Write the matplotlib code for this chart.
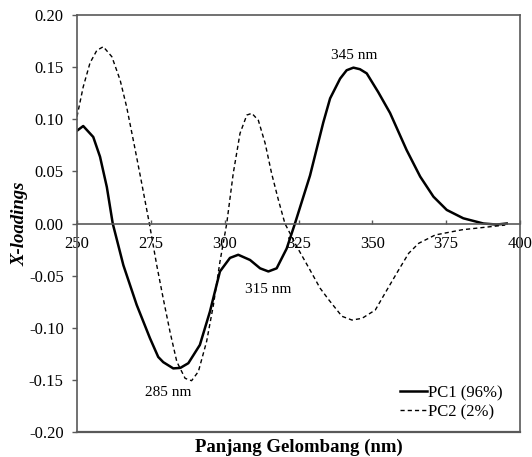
#!/usr/bin/env python3
"""
Plot X-loadings of PC1 and PC2 against wavelength and save as out.png.
"""
import matplotlib.pyplot as plt

# wavelengths (nm) and loadings
pc1_nm = [250.0, 252.1, 255.5, 257.8, 260.1, 262.1, 265.7, 270.2, 274.7, 277.5,
          279.2, 282.6, 285.0, 287.7, 291.6, 295.0, 298.4, 301.8, 304.6, 308.6,
          312.0, 314.8, 317.6, 321.0, 323.8, 328.9, 333.4, 335.7, 339.1, 341.3,
          343.6, 345.8, 348.1, 352.0, 356.0, 361.6, 366.2, 370.7, 375.2, 380.8,
          387.6, 392.1, 395.5]
pc1_val = [0.089, 0.0935, 0.083, 0.064, 0.035, 0.0, -0.040, -0.078, -0.110, -0.128,
           -0.133, -0.139, -0.1385, -0.134, -0.1165, -0.0846, -0.046, -0.033, -0.030, -0.035,
           -0.043, -0.046, -0.043, -0.024, 0.0, 0.046, 0.097, 0.120, 0.139, 0.147,
           0.1495, 0.148, 0.144, 0.126, 0.106, 0.0705, 0.045, 0.0257, 0.013, 0.005,
           0.0, -0.001, 0.0]

pc2_nm = [250.0, 252.1, 254.4, 256.7, 258.9, 261.8, 264.6, 266.8, 269.5, 271.7,
          274.5, 277.0, 279.2, 281.5, 283.8, 286.6, 288.8, 291.1, 293.9, 296.2,
          298.4, 300.7, 302.9, 305.2, 307.5, 309.2, 311.4, 313.7, 315.9, 318.2,
          320.4, 324.4, 328.9, 332.3, 335.2, 339.7, 343.1, 346.5, 351.0, 355.5,
          358.9, 362.3, 365.7, 371.3, 380.4, 395.0]
pc2_val = [0.1025, 0.131, 0.154, 0.166, 0.1696, 0.160, 0.1376, 0.112, 0.0737, 0.0417,
           0.0, -0.040, -0.072, -0.104, -0.1326, -0.1485, -0.1508, -0.142, -0.113, -0.078,
           -0.0367, 0.0, 0.048, 0.0865, 0.104, 0.1057, 0.099, 0.077, 0.048, 0.0225,
           0.0, -0.022, -0.0446, -0.062, -0.073, -0.089, -0.0926, -0.091, -0.083, -0.061,
           -0.0446, -0.0286, -0.019, -0.011, -0.006, -0.0015]

labels = ['PC1 (96%)', 'PC2 (2%)']
peak_texts = ['285 nm', '315 nm', '345 nm']
peak_pos = [(280.9, -0.162), (314.8, -0.063), (344.0, 0.1615)]

x_ticks = [250, 275, 300, 325, 350, 375, 400]
y_ticks = [-0.20, -0.15, -0.10, -0.05, 0.00, 0.05, 0.10, 0.15, 0.20]


def main():
    plt.rcParams['font.family'] = ['Liberation Serif', 'DejaVu Serif']
    plt.rcParams['axes.unicode_minus'] = False
    axis_gray = '#595959'

    fig = plt.figure(figsize=(5.32, 4.57), dpi=100)
    ax = fig.add_axes([77 / 532, 1 - 432 / 457, 443 / 532, 417 / 457])

    ax.plot(pc1_nm, pc1_val, color='black', lw=1.8, label=labels[0])
    ax.plot(pc2_nm, pc2_val, color='black', lw=1.0, dashes=(3, 2.2), label=labels[1])

    for txt, (x, y) in zip(peak_texts, peak_pos):
        ax.text(x, y, txt, fontsize=11, ha='center', va='center')

    ax.set_xlim(250, 400)
    ax.set_ylim(-0.20, 0.20)
    ax.set_xticks(x_ticks)
    ax.set_yticks(y_ticks)
    ax.set_yticklabels([f'{v:.2f}' for v in y_ticks])

    # x axis sits on y = 0, box closed by a line at the bottom
    ax.spines['bottom'].set_position(('data', 0))
    ax.axhline(-0.20, color=axis_gray, lw=1.6, clip_on=False)
    for s in ax.spines.values():
        s.set_color(axis_gray)
        s.set_linewidth(1.2)

    ax.tick_params(axis='x', direction='in', length=3, width=1, color=axis_gray,
                   labelsize=12, pad=9)
    ax.tick_params(axis='y', direction='out', length=3.6, width=1, color=axis_gray,
                   labelsize=12, pad=6)

    ax.set_xlabel('Panjang Gelombang (nm)', fontsize=13.5, fontweight='bold')
    ax.xaxis.set_label_coords(0.5, -0.015)
    ax.set_ylabel('X-loadings', fontsize=13.5, fontweight='bold', style='italic')
    ax.yaxis.set_label_coords(-0.11, 0.5)

    ax.legend(loc='lower right', bbox_to_anchor=(0.98, 0.008), frameon=False,
              fontsize=12, handlelength=1.6, handletextpad=0.1,
              labelspacing=0.2, borderpad=0)

    fig.savefig('out.png', dpi=100)


if __name__ == '__main__':
    main()
